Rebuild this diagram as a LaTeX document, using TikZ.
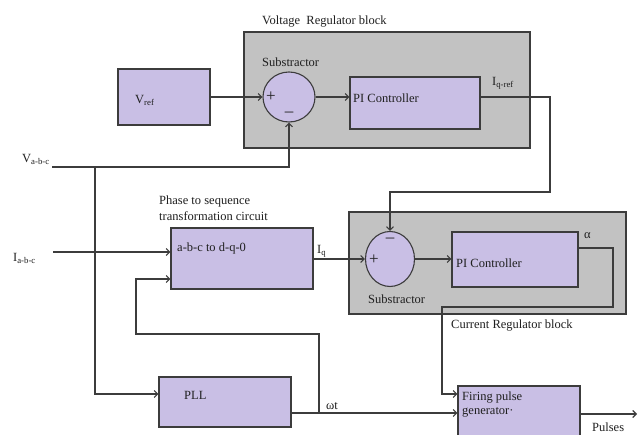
\documentclass[tikz,border=0pt]{standalone}
\usepackage{fontspec}
\setmainfont{Liberation Serif}
\usetikzlibrary{arrows.meta,shapes.geometric}
\definecolor{boxfill}{HTML}{C9BFE5}
\definecolor{grayfill}{HTML}{C2C2C2}
\definecolor{edgec}{HTML}{3C3C3C}
\definecolor{txt}{HTML}{202020}
\begin{document}
\begin{tikzpicture}[x=1pt,y=-1pt,
  gbox/.style={draw=edgec,fill=grayfill,line width=1.3pt,inner sep=0pt},
  blk/.style={draw=edgec,fill=boxfill,line width=1.1pt,inner sep=0pt},
  sumc/.style={ellipse,draw=edgec,fill=boxfill,line width=1.1pt,inner sep=0pt},
  lbl/.style={anchor=west,inner sep=0pt,text=txt,font=\fontsize{12.5}{14}\selectfont},
  sgn/.style={inner sep=0pt,text=txt,font=\fontsize{17}{17}\selectfont},
  wire/.style={draw=edgec,line width=1.1pt},
  arr/.style={wire,-{Straight Barb[length=3.5pt,width=7pt]}}]
\clip (0,0) rectangle (643,435);
\fill[white] (0,0) rectangle (643,435);
% gray regulator blocks
\node[gbox,minimum width=286pt,minimum height=116pt] (vrb) at (387,90) {};
\node[gbox,minimum width=277pt,minimum height=102pt] (crb) at (487.5,263) {};
% blocks
\node[blk,minimum width=92pt,minimum height=56pt] (vref) at (164,97) {};
\node[sumc,minimum width=52pt,minimum height=50pt] (s1) at (289,97) {};
\node[blk,minimum width=130pt,minimum height=52pt] (pi1) at (415,103) {};
\node[blk,minimum width=142pt,minimum height=61pt] (abc) at (242,258.5) {};
\node[sumc,minimum width=49pt,minimum height=55pt] (s2) at (390,259) {};
\node[blk,minimum width=126pt,minimum height=55pt] (pi2) at (515,259.5) {};
\node[blk,minimum width=132pt,minimum height=50pt] (pll) at (225,402) {};
\node[blk,minimum width=122pt,minimum height=64pt] (fpg) at (519,418) {};
% texts
\node[lbl] (tvrb) at (262,22) {Voltage\ \ Regulator block};
\node[lbl] (tsub1) at (262,62) {Substractor};
\node[lbl] (tvref) at (135,100) {V\textsubscript{ref}};
\node[lbl] (tpi1) at (353,98) {PI Controller};
\node[lbl] (tiqref) at (492,83) {I\textsubscript{q-ref}};
\node[lbl] (tva) at (22,159) {V\textsubscript{a-b-c}};
\node[lbl] (tphase1) at (159,201) {Phase to sequence};
\node[lbl] (tphase2) at (159,216) {transformation circuit};
\node[lbl] (tabc) at (177,248) {a-b-c to d-q-0};
\node[lbl] (tia) at (13,258) {I\textsubscript{a-b-c}};
\node[lbl] (tiq) at (317,251) {I\textsubscript{q}};
\node[lbl] (tpi2) at (456,263) {PI Controller};
\node[lbl] (tsub2) at (368,299) {Substractor};
\node[lbl] (talpha) at (584,236) {α};
\node[lbl] (tcrb) at (451,326) {Current Regulator block};
\node[lbl] (tpll) at (184,395) {PLL};
\node[lbl] (twt) at (326,406) {ωt};
\node[lbl] (tfp1) at (462,398) {Firing pulse};
\node[lbl] (tfp2) at (462,412) {generator·};
\node[lbl] (tpulses) at (592,427) {Pulses};
% signs
\node[sgn] (p1) at (271,97) {+};
\node[sgn] (m1) at (289,114) {–};
\node[sgn] (p2) at (374,260) {+};
\node[sgn] (m2) at (390,240) {–};
% coordinates
\coordinate (q1) at (550,97);
\coordinate (q2) at (550,192);
\coordinate (q3) at (390,192);
\coordinate (va) at (52,167);
\coordinate (vb) at (95,167);
\coordinate (vc) at (95,394);
\coordinate (ia) at (53,252);
\coordinate (f1) at (319,413);
\coordinate (f2) at (319,334);
\coordinate (f3) at (136,334);
\coordinate (f4) at (136,279);
\coordinate (r1) at (613,248);
\coordinate (r2) at (613,307);
\coordinate (r3) at (442,307);
\coordinate (r4) at (442,394);
\coordinate (out) at (637,414);
% connectors
\draw[arr] (vref.east |- s1) -- (s1.west);
\draw[arr] (s1.east) -- (s1 -| pi1.west);
\draw[arr] (s1 -| pi1.east) -- (q1) -- (q2) -- (q3) -- (s2.north);
\draw[arr] (va) -- (va -| s1.south) -- (s1.south);
\draw[arr] (vb) -- (vc) -- (vc -| pll.west);
\draw[arr] (ia) -- (ia -| abc.west);
\draw[arr] (f1) -- (f2) -- (f3) -- (f4) -- (f4 -| abc.west);
\draw[arr] (abc.east |- s2) -- (s2.west);
\draw[arr] (s2.east) -- (s2.east -| pi2.west);
\draw[arr] (pi2.east |- r1) -- (r1) -- (r2) -- (r3) -- (r4) -- (r4 -| fpg.west);
\draw[arr] (f1 -| pll.east) -- (f1 -| fpg.west);
\draw[arr] (fpg.east |- out) -- (out);
\end{tikzpicture}
\end{document}
